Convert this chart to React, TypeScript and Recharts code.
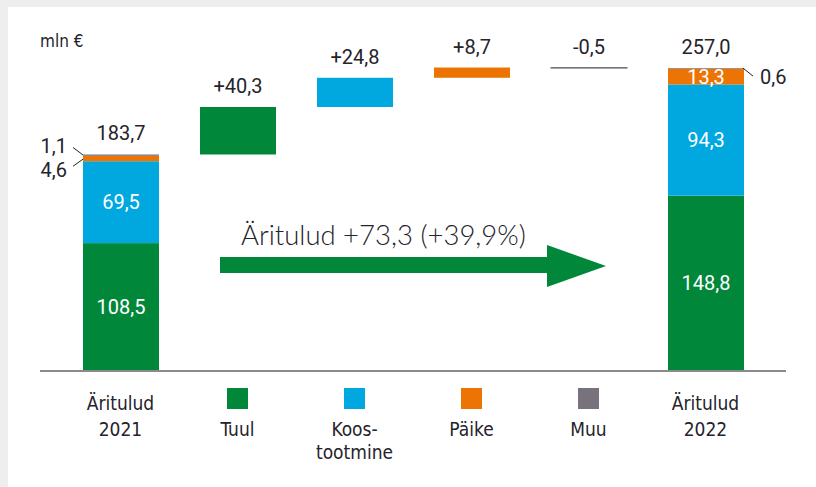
import React from 'react';
import { ComposedChart, Bar, XAxis, YAxis } from 'recharts';

// Revenue bridge 2021 → 2022 (mln €), split by business line
const categories = ['Äritulud 2021', 'Tuul', 'Koostootmine', 'Päike', 'Muu', 'Äritulud 2022'];
const tickLines = [['Äritulud', '2021'], ['Tuul'], ['Koos-', 'tootmine'], ['Päike'], ['Muu'], ['Äritulud', '2022']];
const isTotal = [true, false, false, false, false, true];

const tuul = [108.5, 40.3, 0, 0, 0, 148.8];
const koos = [69.5, 0, 24.8, 0, 0, 94.3];
const paike = [4.6, 0, 0, 8.7, 0, 13.3];
const muu = [1.1, 0, 0, 0, -0.5, 0.6];

const unitLabel = 'mln €';
const arrowText = 'Äritulud +73,3 (+39,9%)';

const COLORS: Record<string, string> = {
  tuul: '#00873a',
  koos: '#00a8df',
  paike: '#ec7404',
  muu: '#77727c',
};
const SWATCH = [null, COLORS.tuul, COLORS.koos, COLORS.paike, COLORS.muu, null];
const SERIES: Record<string, number[]> = { tuul, koos, paike, muu };
const KEYS = ['tuul', 'koos', 'paike', 'muu'];

const TEXT = '#25232b';
const NUM_FONT = 'Roboto, "Open Sans", sans-serif';
const NUM_SIZE = 20;
const NUM_WEIGHT = 400;
const COND_FONT = '"DejaVu Sans Condensed", "DejaVu Sans", sans-serif';

// running totals: total bars start at zero, step bars float on the previous total
const stepSum = categories.map((_, i) => KEYS.reduce((s, k) => s + SERIES[k][i], 0));
const base: number[] = [];
{
  let running = 0;
  categories.forEach((_, i) => {
    if (isTotal[i]) {
      base.push(0);
      running = stepSum[i];
    } else {
      base.push(running);
      running += stepSum[i];
    }
  });
}

const data = categories.map((name, i) => ({
  name,
  idx: i,
  base: base[i],
  tuul: tuul[i],
  koos: koos[i],
  paike: paike[i],
  muu: muu[i],
}));

const fmt = (v: number) => v.toFixed(1).replace('.', ',');
const signed = (v: number) => (v > 0 ? '+' : '') + fmt(v);

const makeShape = (key: string) => (props: any) => {
  const { x, y, width, height } = props;
  const i: number = props.payload?.idx ?? props.index;
  const v = SERIES[key][i];
  if (!v || x == null || y == null) return <g />;
  const top = Math.min(y, y + height);
  const h = Math.abs(height);
  const bottom = top + h;
  const cx = x + width / 2;
  const color = COLORS[key];
  const parts: React.ReactNode[] = [];
  const txt = { fontSize: NUM_SIZE, fontFamily: NUM_FONT, fontWeight: NUM_WEIGHT };

  parts.push(
    <rect
      key="r"
      x={x}
      y={top}
      width={width}
      height={Math.max(h, 0.5)}
      fill={color}
      stroke={!isTotal[i] && key === 'muu' ? color : 'none'}
      strokeWidth={1}
    />
  );

  if (isTotal[i]) {
    if (h >= 14) {
      parts.push(
        <text key="in" x={cx} y={top + h / 2 + 7} textAnchor="middle" fill="#fff" {...txt}>
          {fmt(v)}
        </text>
      );
    } else if (i === 0 && key === 'muu') {
      parts.push(
        <line key="l" x1={x - 10} y1={top - 7} x2={x} y2={top + 0.5} stroke={TEXT} strokeWidth={1} />,
        <text key="s" x={x - 16} y={top - 1} textAnchor="end" fill={TEXT} {...txt}>
          {fmt(v)}
        </text>
      );
    } else if (i === 0) {
      parts.push(
        <line key="l" x1={x - 10} y1={bottom + 5} x2={x} y2={bottom - 2} stroke={TEXT} strokeWidth={1} />,
        <text key="s" x={x - 16} y={bottom + 16} textAnchor="end" fill={TEXT} {...txt}>
          {fmt(v)}
        </text>
      );
    } else {
      parts.push(
        <line key="l" x1={x + width - 1} y1={top} x2={x + width + 9} y2={top + 8} stroke={TEXT} strokeWidth={1} />,
        <text key="s" x={x + width + 16} y={top + 16} textAnchor="start" fill={TEXT} {...txt}>
          {fmt(v)}
        </text>
      );
    }
    if (key === 'muu') {
      parts.push(
        <text key="t" x={cx} y={top - 14} textAnchor="middle" fill={TEXT} {...txt}>
          {fmt(stepSum[i])}
        </text>
      );
    }
  } else {
    parts.push(
      <text key="d" x={cx} y={top - 14} textAnchor="middle" fill={TEXT} {...txt}>
        {signed(v)}
      </text>
    );
  }
  return <g>{parts}</g>;
};

const CategoryTick = (props: any) => {
  const { x, y, payload } = props;
  const i = categories.indexOf(payload.value);
  if (i < 0) return null;
  const lines = tickLines[i];
  const swatch = SWATCH[i];
  const style = { fontFamily: COND_FONT, fontSize: 19, fill: TEXT } as const;
  if (!swatch) {
    return (
      <g>
        <text x={x} y={y + 39} textAnchor="middle" {...style}>{lines[0]}</text>
        <text x={x} y={y + 65} textAnchor="middle" {...style}>{lines[1]}</text>
      </g>
    );
  }
  return (
    <g>
      <rect x={x - 10.5} y={y + 17} width={21} height={21} fill={swatch} />
      {lines.map((t, k) => (
        <text key={k} x={x} y={y + 65 + k * 23} textAnchor="middle" {...style}>{t}</text>
      ))}
    </g>
  );
};

export default function App() {
  return (
    <div style={{ position: 'fixed', left: 0, top: 0, width: 816, height: 487, background: '#eeeeee', overflow: 'hidden' }}>
      <div style={{ position: 'absolute', left: 8, top: 7, right: 0, bottom: 0, background: '#ffffff' }} />
      <div style={{ position: 'absolute', left: 0, top: 0 }}>
        <ComposedChart width={816} height={487} data={data} margin={{ top: 41, right: 30, bottom: 26, left: 40 }}>
          <XAxis
            dataKey="name"
            interval={0}
            height={90}
            padding={{ left: 22, right: 22 }}
            axisLine={{ stroke: '#8a8a8a', strokeWidth: 2 }}
            tickLine={false}
            tickSize={0}
            tickMargin={0}
            tick={<CategoryTick />}
          />
          <YAxis hide type="number" domain={[0, 280]} />
          <Bar dataKey="base" stackId="w" fill="transparent" barSize={76} isAnimationActive={false} />
          {KEYS.map((k) => (
            <Bar key={k} dataKey={k} stackId="w" fill={COLORS[k]} barSize={76} shape={makeShape(k)} isAnimationActive={false} />
          ))}
        </ComposedChart>
      </div>
      <svg width={816} height={487} style={{ position: 'absolute', left: 0, top: 0, pointerEvents: 'none' }}>
        <text x={40} y={47} fill={TEXT} fontSize={17} fontFamily={COND_FONT}>{unitLabel}</text>
        <text x={241} y={245} fill={TEXT} fontSize={27.5} fontWeight={300} fontFamily='Lato, "DejaVu Sans", sans-serif'>{arrowText}</text>
        <rect x={220} y={257} width={328} height={16} fill={COLORS.tuul} />
        <polygon points="547,245 606,266 547,287" fill={COLORS.tuul} />
      </svg>
    </div>
  );
}
